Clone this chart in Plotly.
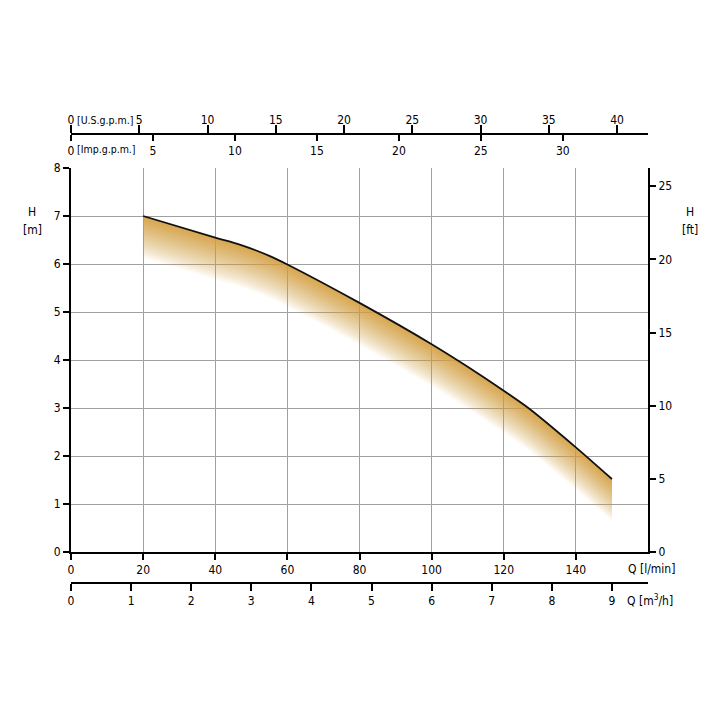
import plotly.graph_objects as go

# ---- data ----
q_lpm = [20, 40, 47, 55, 60, 80, 100, 110, 120, 127, 140, 150]                # flow, l/min
h_m = [7.0, 6.55, 6.40, 6.17, 5.99, 5.19, 4.33, 3.86, 3.36, 2.99, 2.18, 1.52]  # head, m

q_ticks = [0, 20, 40, 60, 80, 100, 120, 140]
h_ticks = [0, 1, 2, 3, 4, 5, 6, 7, 8]
ft_ticks = [0, 5, 10, 15, 20, 25]
usgpm_ticks = [0, 5, 10, 15, 20, 25, 30, 35, 40]
impgpm_ticks = [0, 5, 10, 15, 20, 25, 30]
m3h_ticks = [0, 1, 2, 3, 4, 5, 6, 7, 8, 9]

# unit conversions
L_PER_USGAL = 3.785411784
L_PER_IMPGAL = 4.54609
M_PER_FT = 0.3048
Q_MAX = 160.0
H_MAX = 8.0

# ---- layout geometry (page pixels; the html body adds an 8px offset) ----
OFF = 8
W = H = 720 - OFF
ML = 71 - OFF
MR = W - (648 - OFF)
MT = 100 - OFF
MB = 100
PW = W - ML - MR
PH = H - MT - MB


def px_x(px):
    return (px - OFF - ML) / PW


def px_y(py):
    return (H - MB - (py - OFF)) / PH


FONT = "Liberation Sans Narrow, Arial Narrow, DejaVu Sans Condensed, Roboto Condensed, sans-serif"
GOLD = (217, 163, 70)
GRID = "#a0a0a0"
SHAPE = dict(shape="spline", smoothing=0.6)

fig = go.Figure()

# gradient band under the curve: overlapping translucent fills, each from the
# curve down to a growing depth, so the colour fades smoothly to white
N = 30
DEPTH = 0.88
target = [0.92 * (1 - (k - 0.5) / N) ** 0.8 for k in range(1, N + 1)] + [0.0]
alphas = [0.0] * N
for k in range(N - 1, -1, -1):
    alphas[k] = 1 - (1 - target[k]) / (1 - target[k + 1])

for j in range(N, 0, -1):
    off = DEPTH * j / N
    a = alphas[j - 1]
    fig.add_trace(go.Scatter(x=q_lpm, y=h_m, mode="lines", line=dict(width=0, **SHAPE),
                             hoverinfo="skip", showlegend=False))
    fig.add_trace(go.Scatter(
        x=q_lpm, y=[v - off for v in h_m], mode="lines",
        line=dict(width=0, **SHAPE),
        fill="tonexty", fillcolor=f"rgba({GOLD[0]},{GOLD[1]},{GOLD[2]},{a:.4f})",
        hoverinfo="skip", showlegend=False))

# pump curve
fig.add_trace(go.Scatter(x=q_lpm, y=h_m, mode="lines",
                         line=dict(color="#111111", width=1.8, **SHAPE),
                         showlegend=False, hoverinfo="skip"))

# invisible copies of the curve in the other units so every axis has a trace
fig.add_trace(go.Scatter(x=q_lpm, y=[v / M_PER_FT for v in h_m], xaxis="x", yaxis="y2",
                         mode="lines", line=dict(width=0), opacity=0, showlegend=False, hoverinfo="skip"))
fig.add_trace(go.Scatter(x=[v / L_PER_USGAL for v in q_lpm], y=h_m, xaxis="x2", yaxis="y",
                         mode="lines", line=dict(width=0), opacity=0, showlegend=False, hoverinfo="skip"))
fig.add_trace(go.Scatter(x=[v / L_PER_IMPGAL for v in q_lpm], y=h_m, xaxis="x3", yaxis="y",
                         mode="lines", line=dict(width=0), opacity=0, showlegend=False, hoverinfo="skip"))
fig.add_trace(go.Scatter(x=[v * 0.06 for v in q_lpm], y=h_m, xaxis="x4", yaxis="y",
                         mode="lines", line=dict(width=0), opacity=0, showlegend=False, hoverinfo="skip"))

main_bottom = px_y(552)
main_top = px_y(168)
top_axis = px_y(134)
m3h_axis = px_y(583)

common = dict(showline=True, linecolor="black", linewidth=2, ticks="outside", tickcolor="black",
              tickwidth=1.5, zeroline=False, fixedrange=True, tickfont=dict(family=FONT, size=12, color="black"))

fig.update_layout(
    width=W, height=H,
    margin=dict(l=ML, r=MR, t=MT, b=MB),
    paper_bgcolor="white", plot_bgcolor="white",
    font=dict(family=FONT, size=12, color="black"),
    xaxis=dict(domain=[0, 1], range=[0, Q_MAX], tickmode="array", tickvals=q_ticks, ticklen=6,
               showgrid=True, gridcolor=GRID, gridwidth=1, anchor="y", **common),
    yaxis=dict(domain=[main_bottom, main_top], range=[0, H_MAX], tickmode="array", tickvals=h_ticks,
               ticklen=6, showgrid=True, gridcolor=GRID, gridwidth=1, anchor="x", **common),
    yaxis2=dict(overlaying="y", side="right", anchor="x", range=[0, H_MAX / M_PER_FT], tickmode="array",
                tickvals=ft_ticks, ticklen=6, showgrid=False, **common),
    xaxis2=dict(overlaying="x", anchor="free", position=top_axis, side="top",
                range=[0, Q_MAX / L_PER_USGAL], tickmode="array", tickvals=usgpm_ticks, ticklen=8,
                ticklabelstandoff=-4, showgrid=False, **common),
    xaxis3=dict(overlaying="x", anchor="free", position=top_axis, side="bottom",
                range=[0, Q_MAX / L_PER_IMPGAL], tickmode="array", tickvals=impgpm_ticks, ticklen=6,
                showgrid=False, **common),
    xaxis4=dict(overlaying="x", anchor="free", position=m3h_axis, side="bottom",
                range=[0, Q_MAX * 0.06], tickmode="array", tickvals=m3h_ticks, ticklen=7,
                showgrid=False, **common),
)


def label(text, px, py, xanchor="center", size=12):
    fig.add_annotation(text=text, x=px_x(px), y=px_y(py), xref="paper", yref="paper",
                       showarrow=False, xanchor=xanchor, yanchor="middle",
                       font=dict(family=FONT, size=size, color="black"))


label("H", 32, 212)
label("[m]", 32, 230)
label("H", 690, 212)
label("[ft]", 690, 230)
label("[U.S.g.p.m.]", 75, 120, "left", 10.5)
label("[Imp.g.p.m.]", 75, 149, "left", 10.5)
label("Q [l/min]", 626, 569, "left")
label("Q [m<sup>3</sup>/h]", 625, 600, "left")

fig.write_html("out.html")
